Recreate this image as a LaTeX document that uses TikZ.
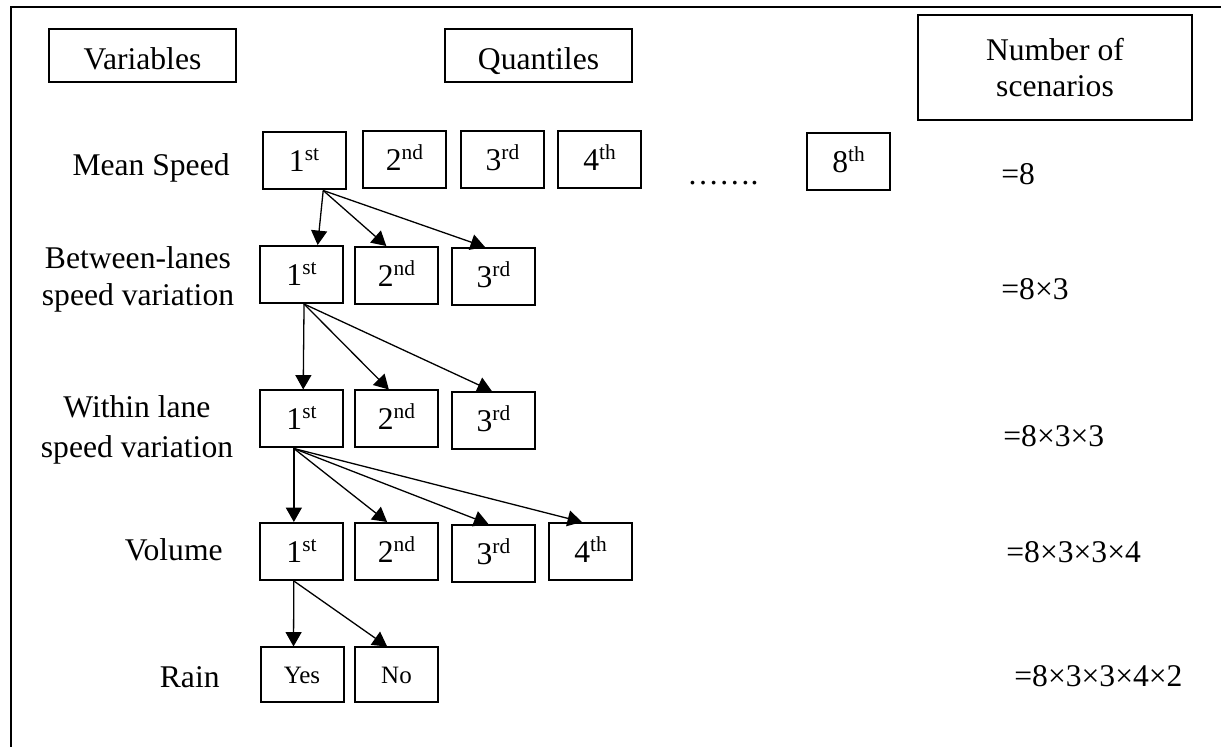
\documentclass[tikz,border=0pt]{standalone}
\usepackage{fontspec}
\setmainfont{Liberation Serif}
\usetikzlibrary{arrows.meta,calc}
\newcommand{\sups}[1]{\raisebox{5.5pt}{\fontsize{10.7}{12}\selectfont #1}}
\begin{document}
\begin{tikzpicture}[x=0.5pt,y=-0.5pt,
  every node/.style={font=\fontsize{15.8}{18}\selectfont},
  hdrbox/.style={draw, line width=1pt, inner sep=0pt, text height=14pt, text depth=0pt,
                 minimum width=93.5pt, minimum height=26.5pt},
  qbox/.style={draw, line width=1pt, minimum width=41.5pt, minimum height=28.5pt,
               inner sep=0pt, text height=11pt, text depth=0pt},
  rbox/.style={qbox, font=\fontsize{12.5}{15}\selectfont, text height=8.3pt, minimum height=27.5pt},
  lbl/.style={anchor=base east, inner sep=0pt},
  lblc/.style={anchor=base, inner sep=0pt},
  res/.style={anchor=base west, inner sep=0pt},
  arr/.style={line width=0.65pt, -{Triangle[length=7.2pt,width=8pt]}},
  frame/.style={line width=1pt}
]
\useasboundingbox (0,0) rectangle (1221,747);
% frame
\coordinate (fBL) at (11,747);
\coordinate (fTL) at (11,7);
\coordinate (fTR) at (1221,7);
\draw[frame] (fBL) -- (fTL) -- (fTR);

% headers
\node[hdrbox] (hv) at (142.5,55.5) {Variables};
\node[hdrbox] (hq) at (538.5,55.5) {Quantiles};
\node[draw, line width=1pt, inner sep=0pt, minimum width=137pt, minimum height=52.5pt,
      align=center] (hn) at (1055,67.5) {Number of\\scenarios};

% row labels
\node[lbl] (vMS) at (230,176) {Mean Speed};
\node[lblc] (vBL1) at (138,269) {Between-lanes};
\node[lblc] (vBL2) at (138,306) {speed variation};
\node[lblc] (vWL1) at (137,418) {Within lane};
\node[lblc] (vWL2) at (137,458) {speed variation};
\node[lbl] (vVol) at (223,561) {Volume};
\node[lbl] (vRain) at (220,688) {Rain};

% row 1
\node[qbox] (a1) at (304,161) {1\sups{st}};
\node[qbox] (a2) at (404.5,160) {2\sups{nd}};
\node[qbox] (a3) at (502.5,160) {3\sups{rd}};
\node[qbox] (a4) at (599.5,160) {4\sups{th}};
\node[anchor=base west, inner sep=0pt] (dots) at (687,185) {……\kern0pt.};
\node[qbox] (a8) at (848.5,162) {8\sups{th}};

% row 2
\node[qbox] (b1) at (301.5,274.5) {1\sups{st}};
\node[qbox] (b2) at (396.5,275.5) {2\sups{nd}};
\node[qbox] (b3) at (493.5,276.5) {3\sups{rd}};

% row 3
\node[qbox] (c1) at (301.5,419) {1\sups{st}};
\node[qbox] (c2) at (396.5,419) {2\sups{nd}};
\node[qbox] (c3) at (493.5,420.5) {3\sups{rd}};

% row 4
\node[qbox] (d1) at (301.5,551.5) {1\sups{st}};
\node[qbox] (d2) at (396.5,551.5) {2\sups{nd}};
\node[qbox] (d3) at (493.5,553.5) {3\sups{rd}};
\node[qbox] (d4) at (590.5,551.5) {4\sups{th}};

% row 5
\node[rbox] (e1) at (302,675) {Yes};
\node[rbox] (e2) at (396.5,675) {No};

% results
\node[res] (n1) at (1001,185) {=8};
\node[res] (n2) at (1001,300) {=8×3};
\node[res] (n3) at (1003,447) {=8×3×3};
\node[res] (n4) at (1006,563) {=8×3×3×4};
\node[res] (n5) at (1014,687) {=8×3×3×4×2};

% arrows
\draw[arr] ($(a1.south west)!0.726!(a1.south east)$) -- ($(b1.north west)!0.69!(b1.north east)$);
\draw[arr] ($(a1.south west)!0.726!(a1.south east)$) -- ($(b2.north west)!0.38!(b2.north east)$);
\draw[arr] ($(a1.south west)!0.726!(a1.south east)$) -- ($(b3.north west)!0.40!(b3.north east)$);

\draw[arr] ($(b1.south west)!0.53!(b1.south east)$) -- ($(c1.north west)!0.52!(c1.north east)$);
\draw[arr] ($(b1.south west)!0.53!(b1.south east)$) -- ($(c2.north west)!0.41!(c2.north east)$);
\draw[arr] ($(b1.south west)!0.53!(b1.south east)$) -- ($(c3.north west)!0.48!(c3.north east)$);

\draw[arr] ($(c1.south west)!0.41!(c1.south east)$) -- ($(d1.north west)!0.41!(d1.north east)$);
\draw[arr] ($(c1.south west)!0.41!(c1.south east)$) -- ($(d2.north west)!0.39!(d2.north east)$);
\draw[arr] ($(c1.south west)!0.41!(c1.south east)$) -- ($(d3.north west)!0.44!(d3.north east)$);
\draw[arr] ($(c1.south west)!0.41!(c1.south east)$) -- ($(d4.north west)!0.40!(d4.north east)$);

\draw[arr] ($(d1.south west)!0.41!(d1.south east)$) -- ($(e1.north west)!0.40!(e1.north east)$);
\draw[arr] ($(d1.south west)!0.41!(d1.south east)$) -- ($(e2.north west)!0.39!(e2.north east)$);
\end{tikzpicture}
\end{document}
